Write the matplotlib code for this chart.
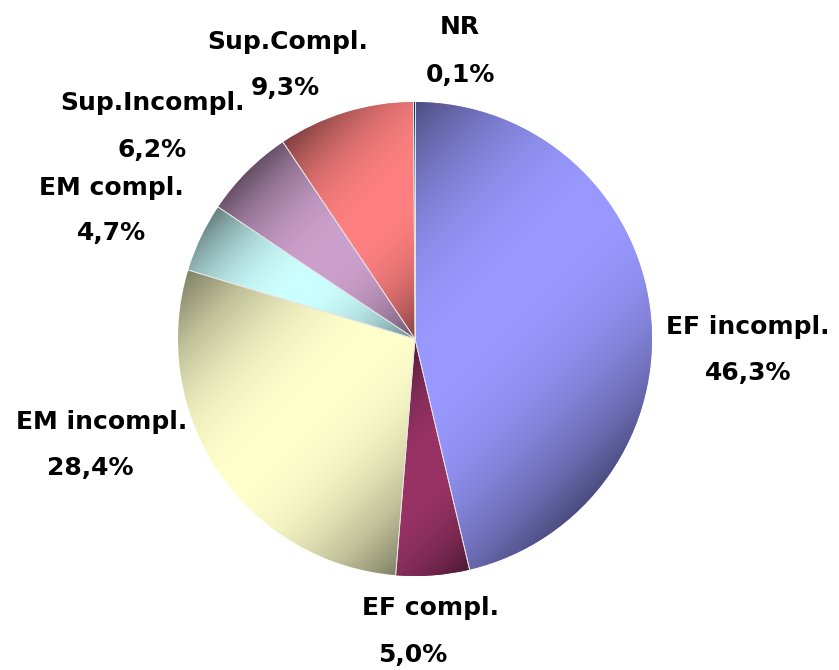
import numpy as np
import matplotlib.pyplot as plt
from matplotlib.colors import to_rgb

# data
labels = ['EF incompl.', 'EF compl.', 'EM incompl.', 'EM compl.',
          'Sup.Incompl.', 'Sup.Compl.', 'NR']
values = [46.3, 5.0, 28.4, 4.7, 6.2, 9.3, 0.1]
colors = ['#9999FF', '#993366', '#FFFFCC', '#CCFFFF', '#CCA0CC', '#FF8080', '#0066CC']

# label positions in pixels (x, y from top) for name and percent
label_pos = [(748, 327), (431, 608), (102, 422), (111, 188),
             (152, 103), (288, 42), (460, 27)]
pct_pos = [(748, 373), (413, 655), (90, 468), (112, 233),
           (152, 150), (285, 88), (460, 75)]

W, H = 839, 670
cx, cy, r = 415, H - 339, 237

fig = plt.figure(figsize=(W / 100, H / 100), dpi=100)
ax = fig.add_axes([0, 0, 1, 1])

wedges, _ = ax.pie(values, colors=colors, startangle=90, counterclock=False,
                   center=(cx, cy), radius=r, frame=True,
                   wedgeprops=dict(linewidth=0))
ax.set_xlim(0, W)
ax.set_ylim(0, H)
ax.set_aspect('equal')
ax.axis('off')

# diagonal shading (top-left -> bottom-right), dark at both ends of each slice
n = 400
xs = np.linspace(-r, r, n)
X, Y = np.meshgrid(xs, xs)
dx, dy = 1 / np.sqrt(2), -1 / np.sqrt(2)
for w, c in zip(wedges, colors):
    t1, t2 = np.radians(w.theta1), np.radians(w.theta2)
    a = np.linspace(t1, t2, 80)
    bx = np.concatenate([[0], r * np.cos(a)])
    by = np.concatenate([[0], r * np.sin(a)])
    s_edge = bx * dx + by * dy
    smin, smax = s_edge.min(), s_edge.max()
    if smax - smin < 1e-6:
        continue
    s = (X * dx + Y * dy - smin) / (smax - smin)
    d = np.clip(np.abs(2 * s - 1), 0, 1) ** 2.2
    f = 1 - 0.5 * d
    rgb = np.array(to_rgb(c))
    img = np.clip(rgb[None, None, :] * f[:, :, None], 0, 1)
    im = ax.imshow(img, origin='lower', extent=(cx - r, cx + r, cy - r, cy + r),
                   interpolation='bilinear', zorder=2)
    im.set_clip_path(w)

# thin light separators between slices
for w in wedges:
    for t in (w.theta1, w.theta2):
        tr = np.radians(t)
        ax.plot([cx, cx + r * np.cos(tr)], [cy, cy + r * np.sin(tr)],
                color='#e6e6e6', lw=0.6, zorder=3)

for lab, v, (lx, ly), (qx, qy) in zip(labels, values, label_pos, pct_pos):
    ax.text(lx, H - ly, lab, ha='center', va='center', fontsize=18,
            fontweight='bold', family='DejaVu Sans')
    ax.text(qx, H - qy, f'{v:.1f}%'.replace('.', ','), ha='center', va='center',
            fontsize=18, fontweight='bold', family='DejaVu Sans')

fig.savefig('out.png', dpi=100)
